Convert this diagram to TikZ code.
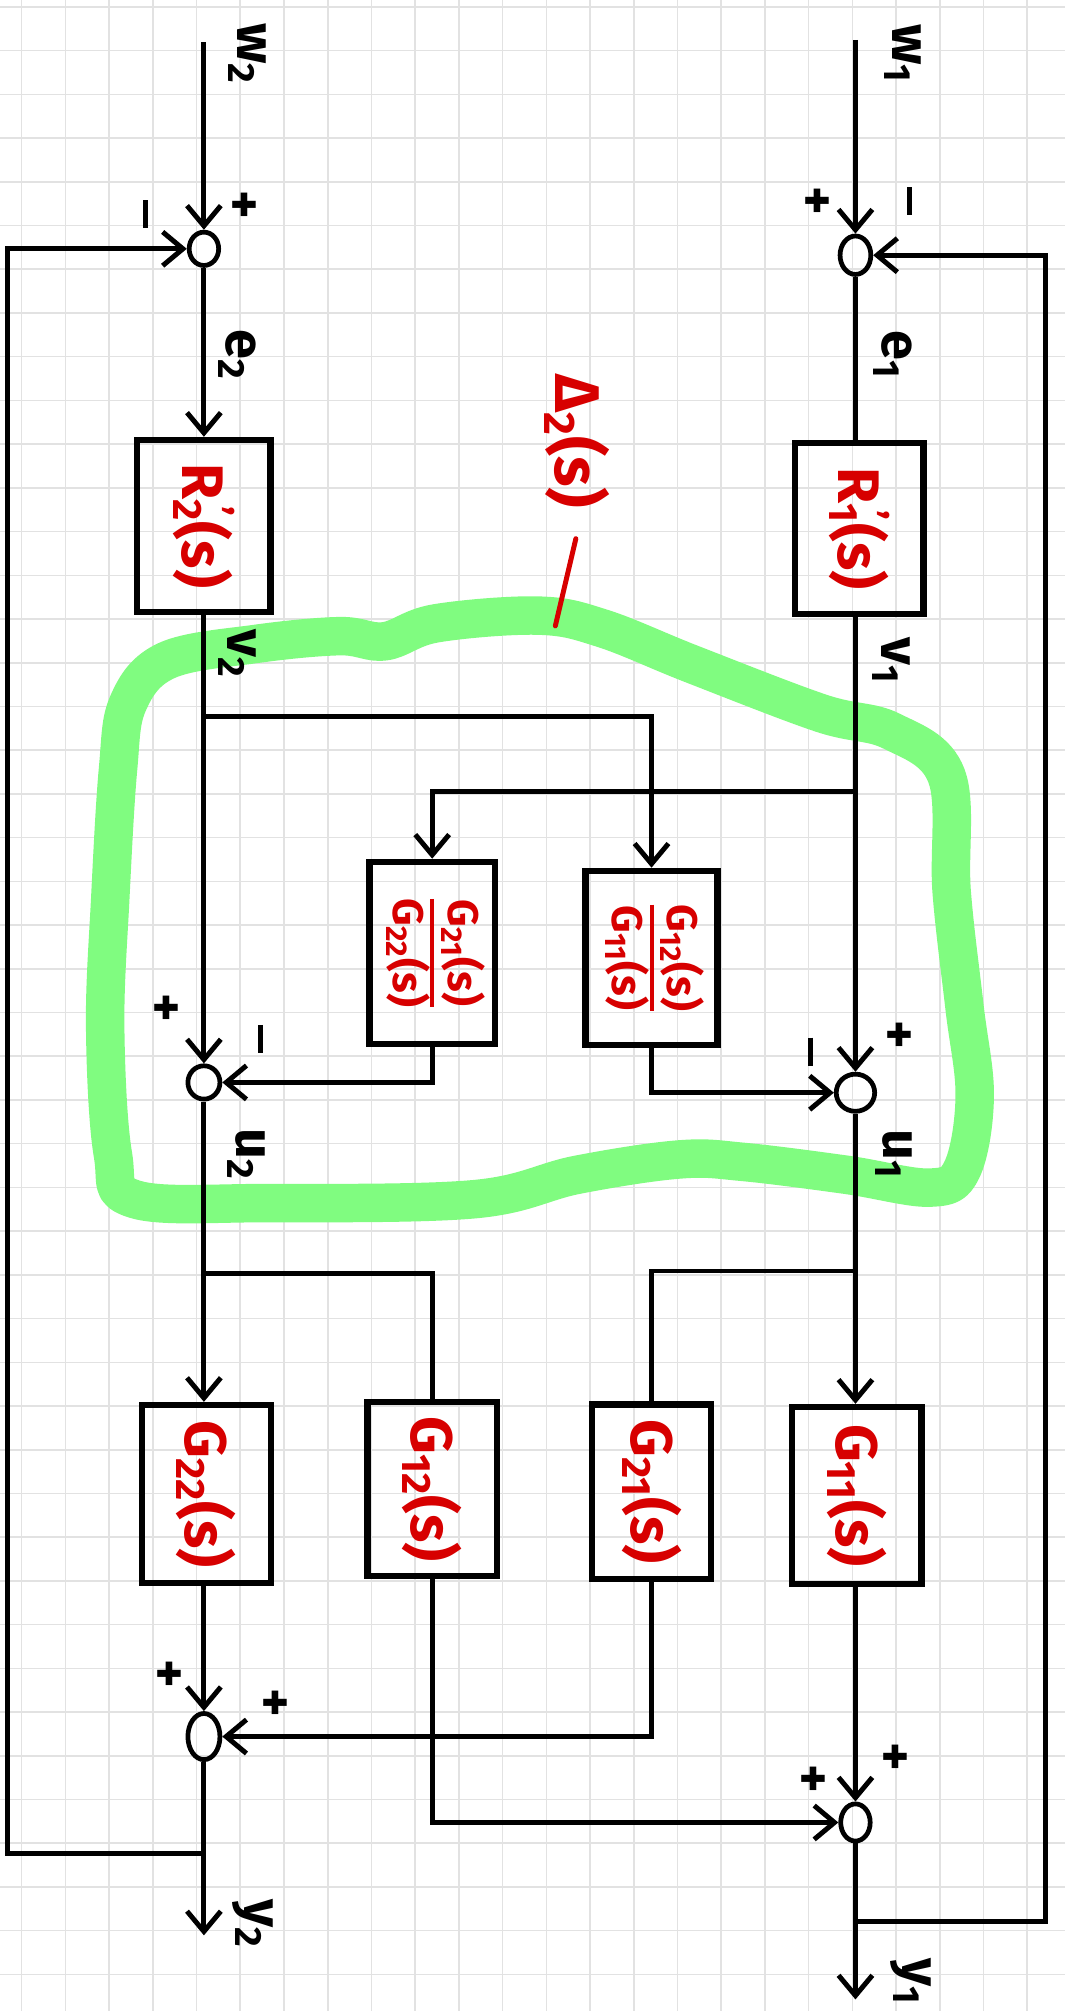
\documentclass[tikz,border=0pt]{standalone}
\usepackage{fontspec}
\setmainfont{Fira Sans}
\usepackage{graphicx}
\usetikzlibrary{arrows.meta,shapes.geometric}
\definecolor{hred}{RGB}{215,0,0}
\definecolor{hgreen}{RGB}{128,252,128}
\definecolor{gridc}{RGB}{226,226,226}
\setlength{\arrayrulewidth}{1.8pt}
\newcommand{\hminus}{\rule[0.25em]{0.44cm}{2.2pt}}
\tikzset{
 sumnode/.style={ellipse, draw, line width=2.1pt, inner sep=0pt},
 blk/.style={rectangle, draw, line width=2.8pt, inner sep=0pt, text=hred, font=\bfseries\fontsize{26}{28}\selectfont},
 fracblk/.style={blk, font=\bfseries\fontsize{19}{21}\selectfont},
 wire/.style={line width=2.2pt},
 arr/.style={wire, -{Straight Barb[length=9pt,width=15pt]}},
 lbl/.style={font=\bfseries\fontsize{24}{26}\selectfont, rotate=-90, inner sep=0pt},
 sgn/.style={font=\bfseries\fontsize{24}{26}\selectfont, rotate=-90, inner sep=0pt},
 redlbl/.style={font=\bfseries\fontsize{28}{30}\selectfont, rotate=-90, inner sep=0pt, text=hred},
}
\begin{document}
\begin{tikzpicture}[x=0.02cm,y=-0.02cm]
\useasboundingbox (0,0) rectangle (830,1568);
\fill[white] (0,0) rectangle (830,1568);
% grid
\foreach \i in {0,...,24} \draw[gridc, line width=0.7pt] ({16.9+34.09*\i},0) -- ({16.9+34.09*\i},1568);
\foreach \j in {0,...,45} \draw[gridc, line width=0.7pt] (0,{5.4+34.09*\j}) -- (830,{5.4+34.09*\j});
% green loop
\draw[hgreen, line width=0.6cm, line join=round] plot[smooth cycle, tension=0.6] coordinates {
 (100,548) (130,515) (200,502) (265,496) (300,500) (340,486) (420,480) (470,490) (540,518) (640,556) (695,570) (738,605)
 (742,695) (752,785) (760,855) (750,912) (725,926) (660,916) (580,906) (530,904) (450,916) (370,935) (210,938) (105,935)
 (88,900) (82,800) (86,700) (92,600)};
% sums
\node[sumnode, minimum width=0.46cm, minimum height=0.52cm] (S2) at (159,194) {};
\node[sumnode, minimum width=0.48cm, minimum height=0.6cm] (S1) at (667,199) {};
\node[sumnode, minimum width=0.5cm, minimum height=0.52cm] (SU2) at (159,844) {};
\node[sumnode, minimum width=0.6cm, minimum height=0.58cm] (SU1) at (667,852) {};
\node[sumnode, minimum width=0.5cm, minimum height=0.72cm] (SY2) at (159,1354) {};
\node[sumnode, minimum width=0.46cm, minimum height=0.58cm] (SY1) at (667,1421) {};
% blocks
\node[blk, minimum width=2.08cm, minimum height=2.68cm] (R2) at (159,410) {\rotatebox{-90}{R\rlap{\textsuperscript{\,\textquoteright}}\textsubscript{2}(s)}};
\node[blk, minimum width=2.0cm, minimum height=2.66cm] (R1) at (670,412) {\rotatebox{-90}{R\rlap{\textsuperscript{\,\textquoteright}}\textsubscript{1}(s)}};
\node[fracblk, minimum width=1.96cm, minimum height=2.84cm] (F2) at (337,743) {\rotatebox{-90}{\begin{tabular}{@{}c@{}}G\textsubscript{21}(s)\\\hline G\textsubscript{22}(s)\end{tabular}}};
\node[fracblk, minimum width=2.06cm, minimum height=2.72cm] (F1) at (508,747) {\rotatebox{-90}{\begin{tabular}{@{}c@{}}G\textsubscript{12}(s)\\\hline G\textsubscript{11}(s)\end{tabular}}};
\node[blk, minimum width=2.02cm, minimum height=2.78cm] (G22) at (161,1165) {\rotatebox{-90}{G\textsubscript{22}(s)}};
\node[blk, minimum width=2.02cm, minimum height=2.72cm] (G12) at (337,1161) {\rotatebox{-90}{G\textsubscript{12}(s)}};
\node[blk, minimum width=1.86cm, minimum height=2.72cm] (G21) at (508,1163) {\rotatebox{-90}{G\textsubscript{21}(s)}};
\node[blk, minimum width=2.02cm, minimum height=2.76cm] (G11) at (668,1166) {\rotatebox{-90}{G\textsubscript{11}(s)}};
% connectors
\coordinate (w2in) at (159,33);
\coordinate (w1in) at (667,31);
\draw[arr] (w2in) -- (S2);
\draw[arr] (w1in) -- (S1);
\draw[arr] (S2) -- (S2 |- R2.north);
\draw[wire] (S1) -- (S1 |- R1.north);
\draw[arr] (R2.south -| S2) -- (SU2);
\draw[arr] (R1.south -| S1) -- (SU1);
\coordinate (b2) at (159,559);
\coordinate (b1) at (667,617);
\draw[arr] (b2) -| (F1.north);
\draw[arr] (b1) -| (F2.north);
\draw[arr] (F2.south) |- (SU2.east);
\draw[arr] (F1.south) |- (SU1.west);
\draw[arr] (SU2) -- (SU2 |- G22.north);
\draw[arr] (SU1) -- (SU1 |- G11.north);
\coordinate (c2) at (159,993);
\coordinate (c1) at (667,991);
\draw[wire] (c2) -| (G12.north);
\draw[wire] (c1) -| (G21.north);
\draw[arr] (G22.south -| SY2) -- (SY2);
\draw[arr] (G11.south -| SY1) -- (SY1);
\draw[arr] (G21.south) |- (SY2.east);
\draw[arr] (G12.south) |- (SY1.west);
\coordinate (y2out) at (159,1509);
\coordinate (y1out) at (667,1559);
\draw[arr] (SY2) -- (y2out);
\draw[arr] (SY1) -- (y1out);
\coordinate (f2) at (159,1445);
\coordinate (fl) at (6,1445);
\draw[arr] (f2) -- (fl) |- (S2.west);
\coordinate (f1) at (667,1498);
\coordinate (fr) at (815,1498);
\draw[arr] (f1) -- (fr) |- (S1.east);
% signal labels
\node[lbl] (lw2) at (193,42) {w\textsubscript{2}};
\node[lbl] (lw1) at (704,42) {w\textsubscript{1}};
\node[lbl] (le2) at (185,277) {e\textsubscript{2}};
\node[lbl] (le1) at (696,277) {e\textsubscript{1}};
\node[lbl] (lv2) at (185,510) {v\textsubscript{2}};
\node[lbl] (lv1) at (695,515) {v\textsubscript{1}};
\node[lbl] (lu2) at (192,900) {u\textsubscript{2}};
\node[lbl] (lu1) at (697,900) {u\textsubscript{1}};
\node[lbl] (ly2) at (197,1500) {y\textsubscript{2}};
\node[lbl] (ly1) at (710,1545) {y\textsubscript{1}};
% signs
\node[sgn] (s2p) at (188,160) {+};
\node[sgn] (s2m) at (108,167) {\hminus};
\node[sgn] (s1p) at (635,157) {+};
\node[sgn] (s1m) at (704,157) {\hminus};
\node[sgn] (su2p) at (127,786) {+};
\node[sgn] (su2m) at (198,810) {\hminus};
\node[sgn] (su1m) at (627,820) {\hminus};
\node[sgn] (su1p) at (699,807) {+};
\node[sgn] (sy2a) at (130,1305) {+};
\node[sgn] (sy2b) at (212,1328) {+};
\node[sgn] (sy1a) at (632,1387) {+};
\node[sgn] (sy1b) at (696,1370) {+};
% Delta label
\node[redlbl] (delta) at (450,344) {Δ\textsubscript{2}(s)};
\coordinate (t1) at (449,420);
\coordinate (t2) at (433,488);
\draw[hred, line width=2.2pt, line cap=round] (t1) -- (t2);
\end{tikzpicture}
\end{document}
